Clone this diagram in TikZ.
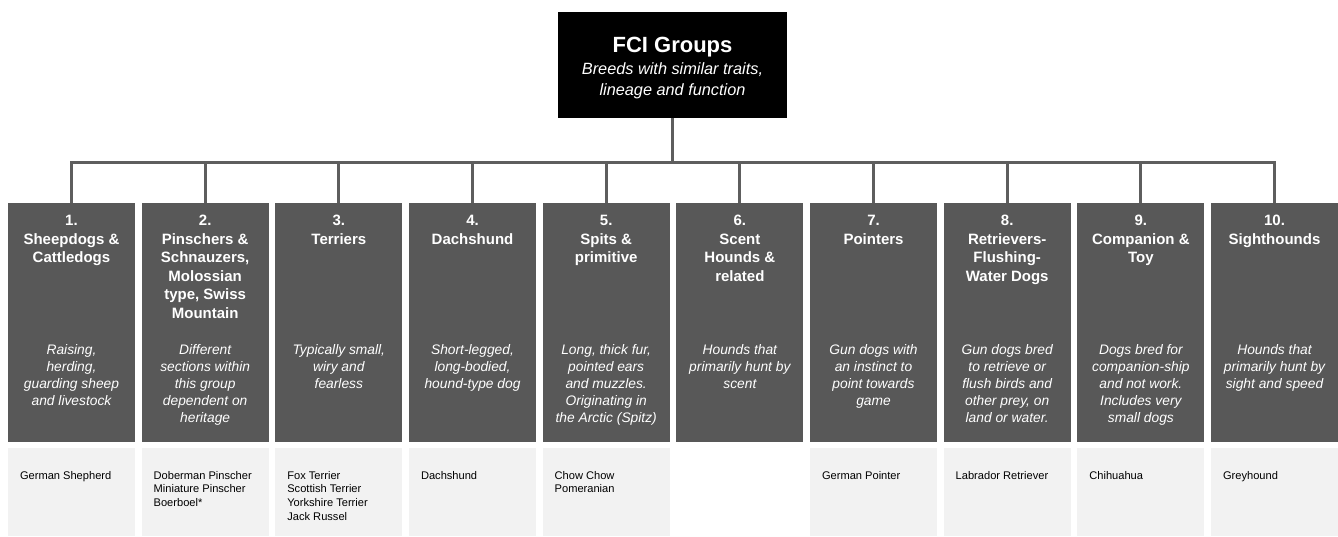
\documentclass[tikz,border=0pt]{standalone}
\usepackage{fontspec}
\setmainfont{Liberation Sans}
\definecolor{grpgray}{HTML}{585858}
\definecolor{breedgray}{HTML}{F2F2F2}
\definecolor{linegray}{HTML}{5E5E5E}
\tikzstyle{topbox}=[fill=black,minimum width=229pt,minimum height=106pt,inner sep=0pt]
\tikzstyle{group}=[fill=grpgray,minimum width=127pt,minimum height=239pt,inner sep=0pt]
\tikzstyle{breedbox}=[fill=breedgray,minimum width=127pt,minimum height=88pt,inner sep=0pt]
\tikzstyle{head}=[text=white,align=center,inner sep=0pt,font=\fontsize{15}{18.5}\selectfont\bfseries]
\tikzstyle{desc}=[text=white,align=center,inner sep=0pt,font=\fontsize{13.8}{17}\selectfont\itshape]
\tikzstyle{breed}=[text=black,align=left,inner sep=0pt,anchor=north west,font=\fontsize{11.1}{13.7}\selectfont]
\tikzstyle{link}=[draw=linegray,line width=3pt]
\newcommand{\grpstep}{133.67}

\begin{document}
\begin{tikzpicture}[x=1pt,y=-1pt]
    \useasboundingbox (0,0) rectangle (1338,536);
    % Root of the tree
    \node[topbox] (fci) at (672.5,65) {};
    \node[text=white,inner sep=0pt,font=\fontsize{22}{26}\selectfont\bfseries] (fcititle) at (672.5,47.5) {FCI Groups};
    \node[text=white,align=center,inner sep=0pt,font=\fontsize{16.3}{21}\selectfont\itshape] (fcisub) at (672.5,81) {Breeds with similar traits,\\lineage and function};
    % The ten groups
    \foreach \i/\head/\desc in {
        1/{1.\\Sheepdogs \&\\Cattledogs}/{Raising,\\herding,\\guarding sheep\\and livestock},
        2/{2.\\Pinschers \&\\Schnauzers,\\Molossian\\type, Swiss\\Mountain}/{Different\\sections within\\this group\\dependent on\\heritage},
        3/{3.\\Terriers}/{Typically small,\\wiry and\\fearless},
        4/{4.\\Dachshund}/{Short-legged,\\long-bodied,\\hound-type dog},
        5/{5.\\Spits \&\\primitive}/{Long, thick fur,\\pointed ears\\and muzzles.\\Originating in\\the Arctic (Spitz)},
        6/{6.\\Scent\\Hounds \&\\related}/{Hounds that\\primarily hunt by\\scent},
        7/{7.\\Pointers}/{Gun dogs with\\an instinct to\\point towards\\game},
        8/{8.\\Retrievers-\\Flushing-\\Water Dogs}/{Gun dogs bred\\to retrieve or\\flush birds and\\other prey, on\\land or water.},
        9/{9.\\Companion \&\\Toy}/{Dogs bred for\\companion-ship\\and not work.\\Includes very\\small dogs},
        10/{10.\\Sighthounds}/{Hounds that\\primarily hunt by\\sight and speed}}
    {
        \pgfmathsetmacro{\x}{71.5+\grpstep*(\i-1)}
        \node[group] (g\i) at (\x,322.5) {};
        \node[head,anchor=north] (h\i) at (\x,215) {\head};
        \node[desc,anchor=north] (d\i) at (\x,344.5) {\desc};
    }
    % Example breeds (group 6 has none)
    \foreach \i/\breeds in {1/{German Shepherd}, 2/{Doberman Pinscher\\Miniature Pinscher\\Boerboel*},
        3/{Fox Terrier\\Scottish Terrier\\Yorkshire Terrier\\Jack Russel}, 4/{Dachshund},
        5/{Chow Chow\\Pomeranian}, 7/{German Pointer}, 8/{Labrador Retriever},
        9/{Chihuahua}, 10/{Greyhound}}
    {
        \pgfmathsetmacro{\x}{71.5+\grpstep*(\i-1)}
        \node[breedbox] (b\i) at (\x,492) {};
        \node[breed] (n\i) at ([xshift=12pt,yshift=-23pt]b\i.north west) {\breeds};
    }
    % Connect root and groups
    \coordinate (hub) at (672.5,162);
    \path[link] (fci.south) -- (hub);
    \foreach \i in {1,...,10}
        \path[link] (g\i.north) |- (hub);
\end{tikzpicture}
\end{document}
